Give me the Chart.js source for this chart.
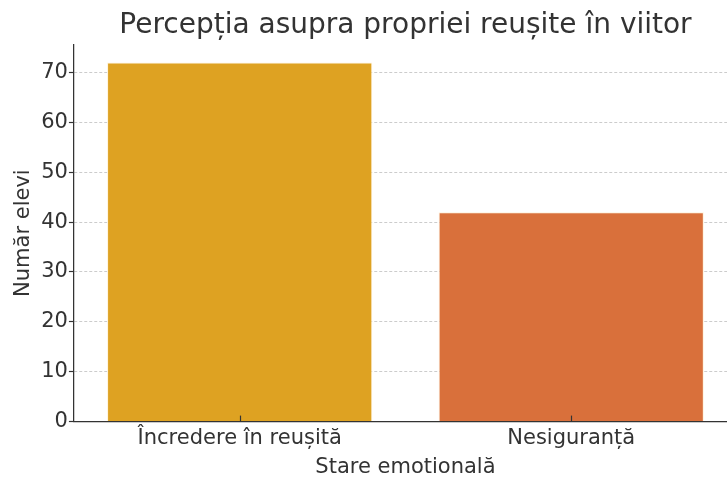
<!DOCTYPE html>
<html>
<head>
<meta charset="utf-8">
<script src="https://cdn.jsdelivr.net/npm/chart.js@4"></script>
<style>
  html, body { margin: 0; padding: 0; background: #fff; overflow: hidden; }
  #grafico { position: absolute; left: 0; top: 0; }
</style>
</head>
<body>
<canvas id="grafico" width="745" height="481"></canvas>
<script>
// datos
var categorias = ['Încredere în reușită', 'Nesiguranță'];
var elevi = [72, 42];
var titulo = 'Percepția asupra propriei reușite în viitor';
var tituloX = 'Stare emotională';
var tituloY = 'Număr elevi';

var colores = ['rgb(222, 162, 34)', 'rgb(217, 112, 59)'];
var fuente = 'DejaVu Sans';
var gris = '#333333';

// marcas del eje x hacia dentro, encima de las barras
var ticksDentro = {
  id: 'ticksDentro',
  afterDatasetsDraw: function (chart) {
    var ctx = chart.ctx;
    var esc = chart.scales.x;
    var abajo = chart.chartArea.bottom;
    ctx.save();
    ctx.strokeStyle = gris;
    ctx.lineWidth = 1.2;
    for (var i = 0; i < esc.ticks.length; i++) {
      var x = Math.round(esc.getPixelForTick(i)) + 0.5;
      ctx.beginPath();
      ctx.moveTo(x, abajo);
      ctx.lineTo(x, abajo - 6);
      ctx.stroke();
    }
    ctx.restore();
  }
};

var ctx = document.getElementById('grafico').getContext('2d');
var grafico = new Chart(ctx, {
  type: 'bar',
  data: {
    labels: categorias,
    datasets: [{
      data: elevi,
      backgroundColor: colores,
      borderColor: 'rgba(255, 240, 210, 0.8)',
      borderWidth: 1,
      barPercentage: 0.8,
      categoryPercentage: 1.0
    }]
  },
  options: {
    responsive: false,
    animation: false,
    layout: { padding: { left: 0, right: 8, top: 0, bottom: 0 } },
    plugins: {
      legend: { display: false },
      tooltip: { enabled: false },
      title: {
        display: true,
        text: titulo,
        fullSize: false,
        color: gris,
        font: { family: fuente, size: 28, weight: 'normal' },
        padding: { top: 9, bottom: 2 }
      }
    },
    scales: {
      x: {
        grid: { display: false, drawTicks: false },
        border: { display: true, color: gris, width: 1.25 },
        ticks: {
          color: gris,
          padding: 4,
          font: { family: fuente, size: 21 }
        },
        title: {
          display: true,
          text: tituloX,
          color: gris,
          font: { family: fuente, size: 21 },
          padding: { top: 0, bottom: 1 }
        }
      },
      y: {
        min: 0,
        max: 75.6,
        grid: {
          color: '#cccccc',
          lineWidth: 1,
          drawTicks: true,
          tickLength: 5,
          tickColor: gris,
          tickWidth: 1.2
        },
        border: { display: true, color: gris, width: 1.25, dash: [3, 2] },
        ticks: {
          stepSize: 10,
          includeBounds: false,
          color: gris,
          padding: 1,
          font: { family: fuente, size: 21 }
        },
        title: {
          display: true,
          text: tituloY,
          color: gris,
          font: { family: fuente, size: 21 },
          padding: { top: 11, bottom: 4 }
        }
      }
    }
  },
  plugins: [ticksDentro]
});
</script>
</body>
</html>
